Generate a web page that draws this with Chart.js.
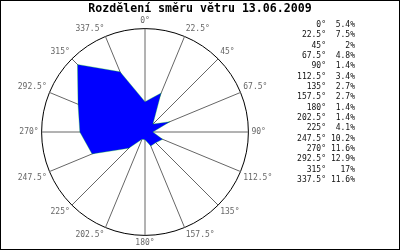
<!DOCTYPE html>
<html>
<head>
<meta charset="utf-8">
<script src="https://cdn.jsdelivr.net/npm/chart.js@4/dist/chart.umd.min.js"></script>
<style>
  html, body { margin: 0; padding: 0; background: #fff; }
  #wrap { width: 400px; height: 250px; position: relative; }
</style>
</head>
<body>
<div id="wrap"><canvas id="myChart" width="400" height="250"></canvas></div>
<script>
let directions = ['0°', '22.5°', '45°', '67.5°', '90°', '112.5°', '135°', '157.5°',
                  '180°', '202.5°', '225°', '247.5°', '270°', '292.5°', '315°', '337.5°'];
let percents = [5.4, 7.5, 2, 4.8, 1.4, 3.4, 2.7, 2.7, 1.4, 1.4, 4.1, 10.2, 11.6, 12.9, 17, 11.6];
let percentLabels = ['5.4%', '7.5%', '2%', '4.8%', '1.4%', '3.4%', '2.7%', '2.7%',
                     '1.4%', '1.4%', '4.1%', '10.2%', '11.6%', '12.9%', '17%', '11.6%'];
let scaleMax = 18.4;
let titleText = 'Rozdělení směru větru 13.06.2009';

// title, frame and the table on the right
const extras = {
    id: 'extras',
    afterDraw(chart) {
        const c = chart.ctx;
        c.save();
        c.strokeStyle = '#000';
        c.lineWidth = 1;
        c.strokeRect(0.5, 0.5, 399, 249);

        c.fillStyle = '#000';
        c.font = 'bold 11.6px "DejaVu Sans Mono"';
        c.textAlign = 'center';
        c.textBaseline = 'middle';
        c.fillText(titleText, 200, 9);

        c.font = '8px "DejaVu Sans Mono"';
        c.fillStyle = '#111';
        c.textAlign = 'right';
        for (let i = 0; i < directions.length; i++) {
            let y = 25 + i * 10.33;
            c.fillText(directions[i], 326, y);
            c.fillText(percentLabels[i], 355, y);
        }
        c.restore();
    }
};

const ctx = document.getElementById('myChart').getContext('2d');
const windChart = new Chart(ctx, {
    type: 'radar',
    data: {
        labels: directions,
        datasets: [{
            data: percents,
            backgroundColor: '#0000ff',
            borderColor: 'rgba(0,220,0,0.3)',
            borderWidth: 1,
            pointRadius: 0,
            fill: true
        }]
    },
    options: {
        responsive: false,
        animation: false,
        layout: {
            padding: { top: 17, bottom: 1, left: 2, right: 112 }
        },
        plugins: {
            legend: { display: false },
            tooltip: { enabled: false }
        },
        scales: {
            r: {
                min: 0,
                max: scaleMax,
                startAngle: 0,
                ticks: { display: false, stepSize: scaleMax },
                grid: { color: '#000', lineWidth: 1, circular: true },
                angleLines: { color: '#666', lineWidth: 1 },
                pointLabels: {
                    color: '#666',
                    padding: 3,
                    font: { family: 'DejaVu Sans Mono', size: 8 }
                }
            }
        }
    },
    plugins: [extras]
});
</script>
</body>
</html>
